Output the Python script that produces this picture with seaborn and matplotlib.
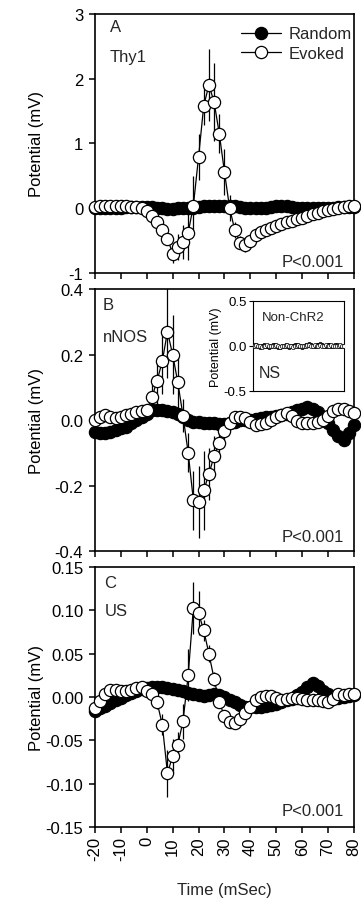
import numpy as np
import pandas as pd
import matplotlib
matplotlib.use("Agg")
import matplotlib.pyplot as plt
import seaborn as sns

# time grid (ms), one sample every 2 ms
time = list(range(-20, 81, 2))
xticks = [-20, -10, 0, 10, 20, 30, 40, 50, 60, 70, 80]

# ---------------- Panel A : Thy1 ----------------
thy1_evoked = [0.02, 0.03, 0.03, 0.03, 0.03, 0.03, 0.03, 0.02, 0.02, 0.0,
               -0.05, -0.12, -0.22, -0.33, -0.47, -0.70, -0.60, -0.52, -0.38, 0.04,
               0.79, 1.58, 1.90, 1.64, 1.15, 0.56, 0.0, -0.34, -0.53, -0.57,
               -0.50, -0.42, -0.37, -0.33, -0.30, -0.27, -0.25, -0.22, -0.20, -0.17,
               -0.15, -0.12, -0.09, -0.07, -0.05, -0.03, -0.01, 0.01, 0.02, 0.03, 0.04]
thy1_evoked_err = [0.02, 0.02, 0.02, 0.02, 0.02, 0.02, 0.02, 0.02, 0.02, 0.02,
                   0.03, 0.04, 0.05, 0.06, 0.10, 0.15, 0.20, 0.26, 0.42, 0.45,
                   0.35, 0.30, 0.55, 0.60, 0.30, 0.35, 0.20, 0.12, 0.10, 0.10,
                   0.08, 0.08, 0.07, 0.07, 0.06, 0.06, 0.05, 0.05, 0.04, 0.04,
                   0.04, 0.03, 0.03, 0.03, 0.03, 0.02, 0.02, 0.02, 0.02, 0.02, 0.02]
thy1_random = [0.0, 0.0, 0.01, 0.01, 0.01, 0.01, 0.02, 0.02, 0.02, 0.02,
               0.02, 0.02, 0.01, 0.0, -0.01, -0.01, 0.0, 0.0, 0.01, 0.01,
               0.02, 0.03, 0.04, 0.04, 0.04, 0.04, 0.03, 0.03, 0.02, 0.01,
               0.0, 0.0, 0.0, 0.01, 0.02, 0.03, 0.03, 0.03, 0.02, 0.01,
               0.0, 0.0, 0.0, 0.0, 0.0, 0.0, 0.01, 0.02, 0.02, 0.02, 0.02]
thy1_random_err = [0.05] * 51

# ---------------- Panel B : nNOS ----------------
nnos_evoked = [0.0, 0.01, 0.015, 0.01, 0.005, 0.008, 0.015, 0.02, 0.025, 0.028,
               0.03, 0.07, 0.12, 0.18, 0.27, 0.20, 0.115, 0.013, -0.10, -0.245,
               -0.25, -0.215, -0.165, -0.11, -0.07, -0.033, -0.01, 0.008, 0.01, 0.005,
               -0.005, -0.015, -0.013, -0.008, 0.0, 0.008, 0.016, 0.023, 0.012, -0.003,
               -0.008, -0.008, -0.008, -0.005, 0.0, 0.013, 0.028, 0.033, 0.033, 0.028, 0.021]
nnos_evoked_err = [0.01, 0.01, 0.01, 0.01, 0.01, 0.01, 0.01, 0.01, 0.01, 0.01,
                   0.02, 0.04, 0.07, 0.10, 0.14, 0.12, 0.08, 0.05, 0.06, 0.09,
                   0.11, 0.12, 0.08, 0.06, 0.04, 0.03, 0.02, 0.01, 0.01, 0.01,
                   0.01, 0.01, 0.01, 0.01, 0.01, 0.01, 0.01, 0.01, 0.01, 0.01,
                   0.01, 0.01, 0.01, 0.01, 0.01, 0.01, 0.01, 0.01, 0.01, 0.01, 0.01]
nnos_random = [-0.035, -0.04, -0.04, -0.035, -0.03, -0.025, -0.02, -0.01, 0.0, 0.01,
               0.02, 0.03, 0.03, 0.03, 0.028, 0.025, 0.02, 0.01, 0.0, -0.005,
               -0.005, -0.008, -0.01, -0.01, -0.012, -0.012, -0.01, -0.005, 0.0, 0.0,
               0.0, 0.003, 0.005, 0.008, 0.01, 0.012, 0.015, 0.02, 0.025, 0.03,
               0.035, 0.04, 0.035, 0.025, 0.01, -0.01, -0.03, -0.05, -0.06, -0.04, -0.015]
nnos_random_err = [0.015] * 51

# inset: Non-ChR2 animals
nonchr2_random = [0.0, 0.01, 0.01, 0.0, -0.01, 0.0, 0.01, 0.0, 0.0, -0.01,
                  0.0, 0.01, 0.01, 0.0, -0.01, -0.01, 0.0, 0.0, 0.01, 0.0,
                  -0.01, 0.0, 0.0, 0.01, 0.01, 0.0, 0.0, -0.01, 0.0, 0.01,
                  0.01, 0.02, 0.01, 0.0, 0.0, 0.01, 0.01, 0.02, 0.01, 0.0,
                  0.0, 0.01, 0.01, 0.0, 0.0, 0.01, 0.01, 0.0, 0.0, 0.0, 0.0]
nonchr2_evoked = [0.0, 0.0, 0.01, 0.0, 0.0, -0.01, 0.0, 0.0, 0.01, 0.0,
                  0.0, 0.0, 0.0, 0.01, 0.0, -0.01, 0.0, 0.0, 0.0, 0.01,
                  0.0, 0.0, -0.01, 0.0, 0.0, 0.01, 0.0, 0.0, 0.0, 0.0,
                  0.01, 0.01, 0.0, 0.0, 0.01, 0.0, 0.0, 0.01, 0.0, 0.0,
                  0.01, 0.0, 0.0, 0.01, 0.0, 0.0, 0.0, 0.0, 0.01, 0.0, 0.0]

# ---------------- Panel C : US ----------------
us_evoked = [-0.013, -0.005, 0.003, 0.0085, 0.008, 0.0065, 0.0065, 0.0085, 0.010, 0.0115,
             0.0065, 0.004, -0.006, -0.032, -0.088, -0.068, -0.055, -0.028, 0.025, 0.103,
             0.097, 0.077, 0.050, 0.021, -0.006, -0.022, -0.029, -0.030, -0.025, -0.019,
             -0.012, -0.003, 0.0, 0.0015, 0.001, -0.001, -0.003, -0.002, -0.001, -0.001,
             -0.002, -0.003, -0.004, -0.004, -0.005, -0.006, -0.002, 0.003, 0.002, 0.003, 0.003]
us_evoked_err = [0.003, 0.003, 0.003, 0.003, 0.003, 0.003, 0.003, 0.003, 0.003, 0.003,
                 0.004, 0.005, 0.008, 0.012, 0.027, 0.02, 0.015, 0.02, 0.03, 0.03,
                 0.025, 0.012, 0.01, 0.008, 0.006, 0.005, 0.004, 0.004, 0.003, 0.003,
                 0.003, 0.003, 0.003, 0.003, 0.003, 0.003, 0.003, 0.003, 0.003, 0.003,
                 0.003, 0.003, 0.003, 0.003, 0.003, 0.003, 0.003, 0.003, 0.003, 0.003, 0.003]
us_random = [-0.016, -0.013, -0.01, -0.007, -0.004, -0.001, 0.002, 0.005, 0.007, 0.009,
             0.01, 0.011, 0.011, 0.011, 0.01, 0.009, 0.008, 0.007, 0.005, 0.003,
             0.002, 0.001, 0.002, 0.003, 0.002, 0.0, -0.003, -0.006, -0.009, -0.011,
             -0.012, -0.012, -0.011, -0.01, -0.009, -0.008, -0.006, -0.004, -0.002, 0.002,
             0.006, 0.012, 0.016, 0.013, 0.007, 0.003, 0.0, -0.001, 0.0, 0.001, 0.002]
us_random_err = [0.005] * 51

W = 0.7175
panels = [
    dict(ev=thy1_evoked, ev_err=thy1_evoked_err, rn=thy1_random, rn_err=thy1_random_err,
         ylim=(-1, 3), yticks=[-1, 0, 1, 2, 3], yfmt="{:g}", letter="A", name="Thy1",
         rect=[0.263, 0.6966, W, 0.287], lx=0.057, ly=(0.95, 0.834), py=0.046),
    dict(ev=nnos_evoked, ev_err=nnos_evoked_err, rn=nnos_random, rn_err=nnos_random_err,
         ylim=(-0.4, 0.4), yticks=[-0.4, -0.2, 0.0, 0.2, 0.4], yfmt="{:.1f}", letter="B", name="nNOS",
         rect=[0.263, 0.3887, W, 0.290], lx=0.03, ly=(0.943, 0.82), py=0.057),
    dict(ev=us_evoked, ev_err=us_evoked_err, rn=us_random, rn_err=us_random_err,
         ylim=(-0.15, 0.15), yticks=[-0.15, -0.10, -0.05, 0.0, 0.05, 0.10, 0.15], yfmt="{:.2f}",
         letter="C", name="US",
         rect=[0.263, 0.083, W, 0.288], lx=0.037, ly=(0.942, 0.831), py=0.062),
]

FS = 12

sns.set_theme(style="ticks")
plt.rcParams["font.family"] = ["Liberation Sans", "DejaVu Sans"]
plt.rcParams["axes.linewidth"] = 1.2
plt.rcParams["xtick.major.width"] = 1.1
plt.rcParams["ytick.major.width"] = 1.1
plt.rcParams["xtick.major.size"] = 4.5
plt.rcParams["ytick.major.size"] = 4.5

fig = plt.figure(figsize=(3.61, 9.03), dpi=100)

for i, p in enumerate(panels):
    ax = fig.add_axes(p["rect"])
    df = pd.DataFrame({"Time": time, "Random": p["rn"], "Evoked": p["ev"]})

    ax.errorbar(time, p["rn"], yerr=p["rn_err"], fmt="none", ecolor="black",
                elinewidth=0.9, capsize=0, zorder=1.5)
    sns.lineplot(data=df, x="Time", y="Random", ax=ax, color="black", marker="o",
                 markersize=8.8, markerfacecolor="black", markeredgecolor="black",
                 markeredgewidth=0.9, linewidth=0.9, label="Random", zorder=2,
                 clip_on=False)
    ax.errorbar(time, p["ev"], yerr=p["ev_err"], fmt="none", ecolor="black",
                elinewidth=0.9, capsize=0, zorder=3)
    sns.lineplot(data=df, x="Time", y="Evoked", ax=ax, color="black", marker="o",
                 markersize=8.8, markerfacecolor="white", markeredgecolor="black",
                 markeredgewidth=0.9, linewidth=0.9, label="Evoked", zorder=4,
                 clip_on=False)

    ax.set_xlim(-20, 80)
    ax.set_ylim(*p["ylim"])
    ax.set_xticks(xticks)
    ax.set_yticks(p["yticks"])
    ax.set_yticklabels([p["yfmt"].format(v) for v in p["yticks"]], fontsize=FS)
    for s in ax.spines.values():
        s.set_visible(True)
        s.set_color("black")
    ax.tick_params(axis="both", direction="out", colors="black", top=False, right=False)
    ax.tick_params(axis="y", pad=4)
    ax.tick_params(axis="x", pad=2)
    ax.set_ylabel("Potential (mV)", fontsize=FS, color="black")
    ax.yaxis.set_label_coords(-0.197, 0.5)

    if i < 2:
        ax.set_xticklabels([])
        ax.set_xlabel("")
    else:
        ax.set_xticklabels([str(v) for v in xticks], rotation=90, fontsize=FS)
        ax.set_xlabel("Time (mSec)", fontsize=FS, labelpad=16)

    ax.text(p["lx"], p["ly"][0], p["letter"], transform=ax.transAxes, fontsize=FS,
            va="center", ha="left")
    ax.text(p["lx"], p["ly"][1], p["name"], transform=ax.transAxes, fontsize=FS,
            va="center", ha="left")
    ax.text(0.96, p["py"], "P<0.001", transform=ax.transAxes, fontsize=FS,
            va="center", ha="right")

    if i == 0:
        ax.legend(loc="upper right", bbox_to_anchor=(1.03, 0.99), frameon=False,
                  fontsize=FS, handlelength=2.4, handletextpad=0.45,
                  labelspacing=0.25, borderaxespad=0.2)
    else:
        leg = ax.get_legend()
        if leg is not None:
            leg.remove()

# inset in panel B
ins = fig.add_axes([0.700, 0.566, 0.253, 0.0997])
ins_df = pd.DataFrame({"Time": time, "Random": nonchr2_random, "Evoked": nonchr2_evoked})
sns.lineplot(data=ins_df, x="Time", y="Random", ax=ins, color="black", marker="o",
             markersize=3, markerfacecolor="black", markeredgecolor="black",
             markeredgewidth=0.5, linewidth=0.6, zorder=2)
sns.lineplot(data=ins_df, x="Time", y="Evoked", ax=ins, color="black", marker="o",
             markersize=3, markerfacecolor="white", markeredgecolor="black",
             markeredgewidth=0.5, linewidth=0.6, zorder=3)
ins.set_xlim(-20, 80)
ins.set_ylim(-0.5, 0.5)
ins.set_xticks([])
ins.set_yticks([-0.5, 0.0, 0.5])
ins.set_yticklabels(["-0.5", "0.0", "0.5"], fontsize=9.5)
ins.tick_params(axis="y", direction="out", length=3, width=0.8, pad=1.5, colors="black")
for s in ins.spines.values():
    s.set_visible(True)
    s.set_linewidth(0.8)
    s.set_color("black")
ins.set_xlabel("")
ins.set_ylabel("Potential (mV)", fontsize=9, color="black")
ins.yaxis.set_label_coords(-0.34, 0.5)
ins.text(0.1, 0.82, "Non-ChR2", transform=ins.transAxes, fontsize=9.5, va="center", ha="left")
ins.text(0.07, 0.2, "NS", transform=ins.transAxes, fontsize=11.5, va="center", ha="left")

fig.savefig("out.png", dpi=100)
